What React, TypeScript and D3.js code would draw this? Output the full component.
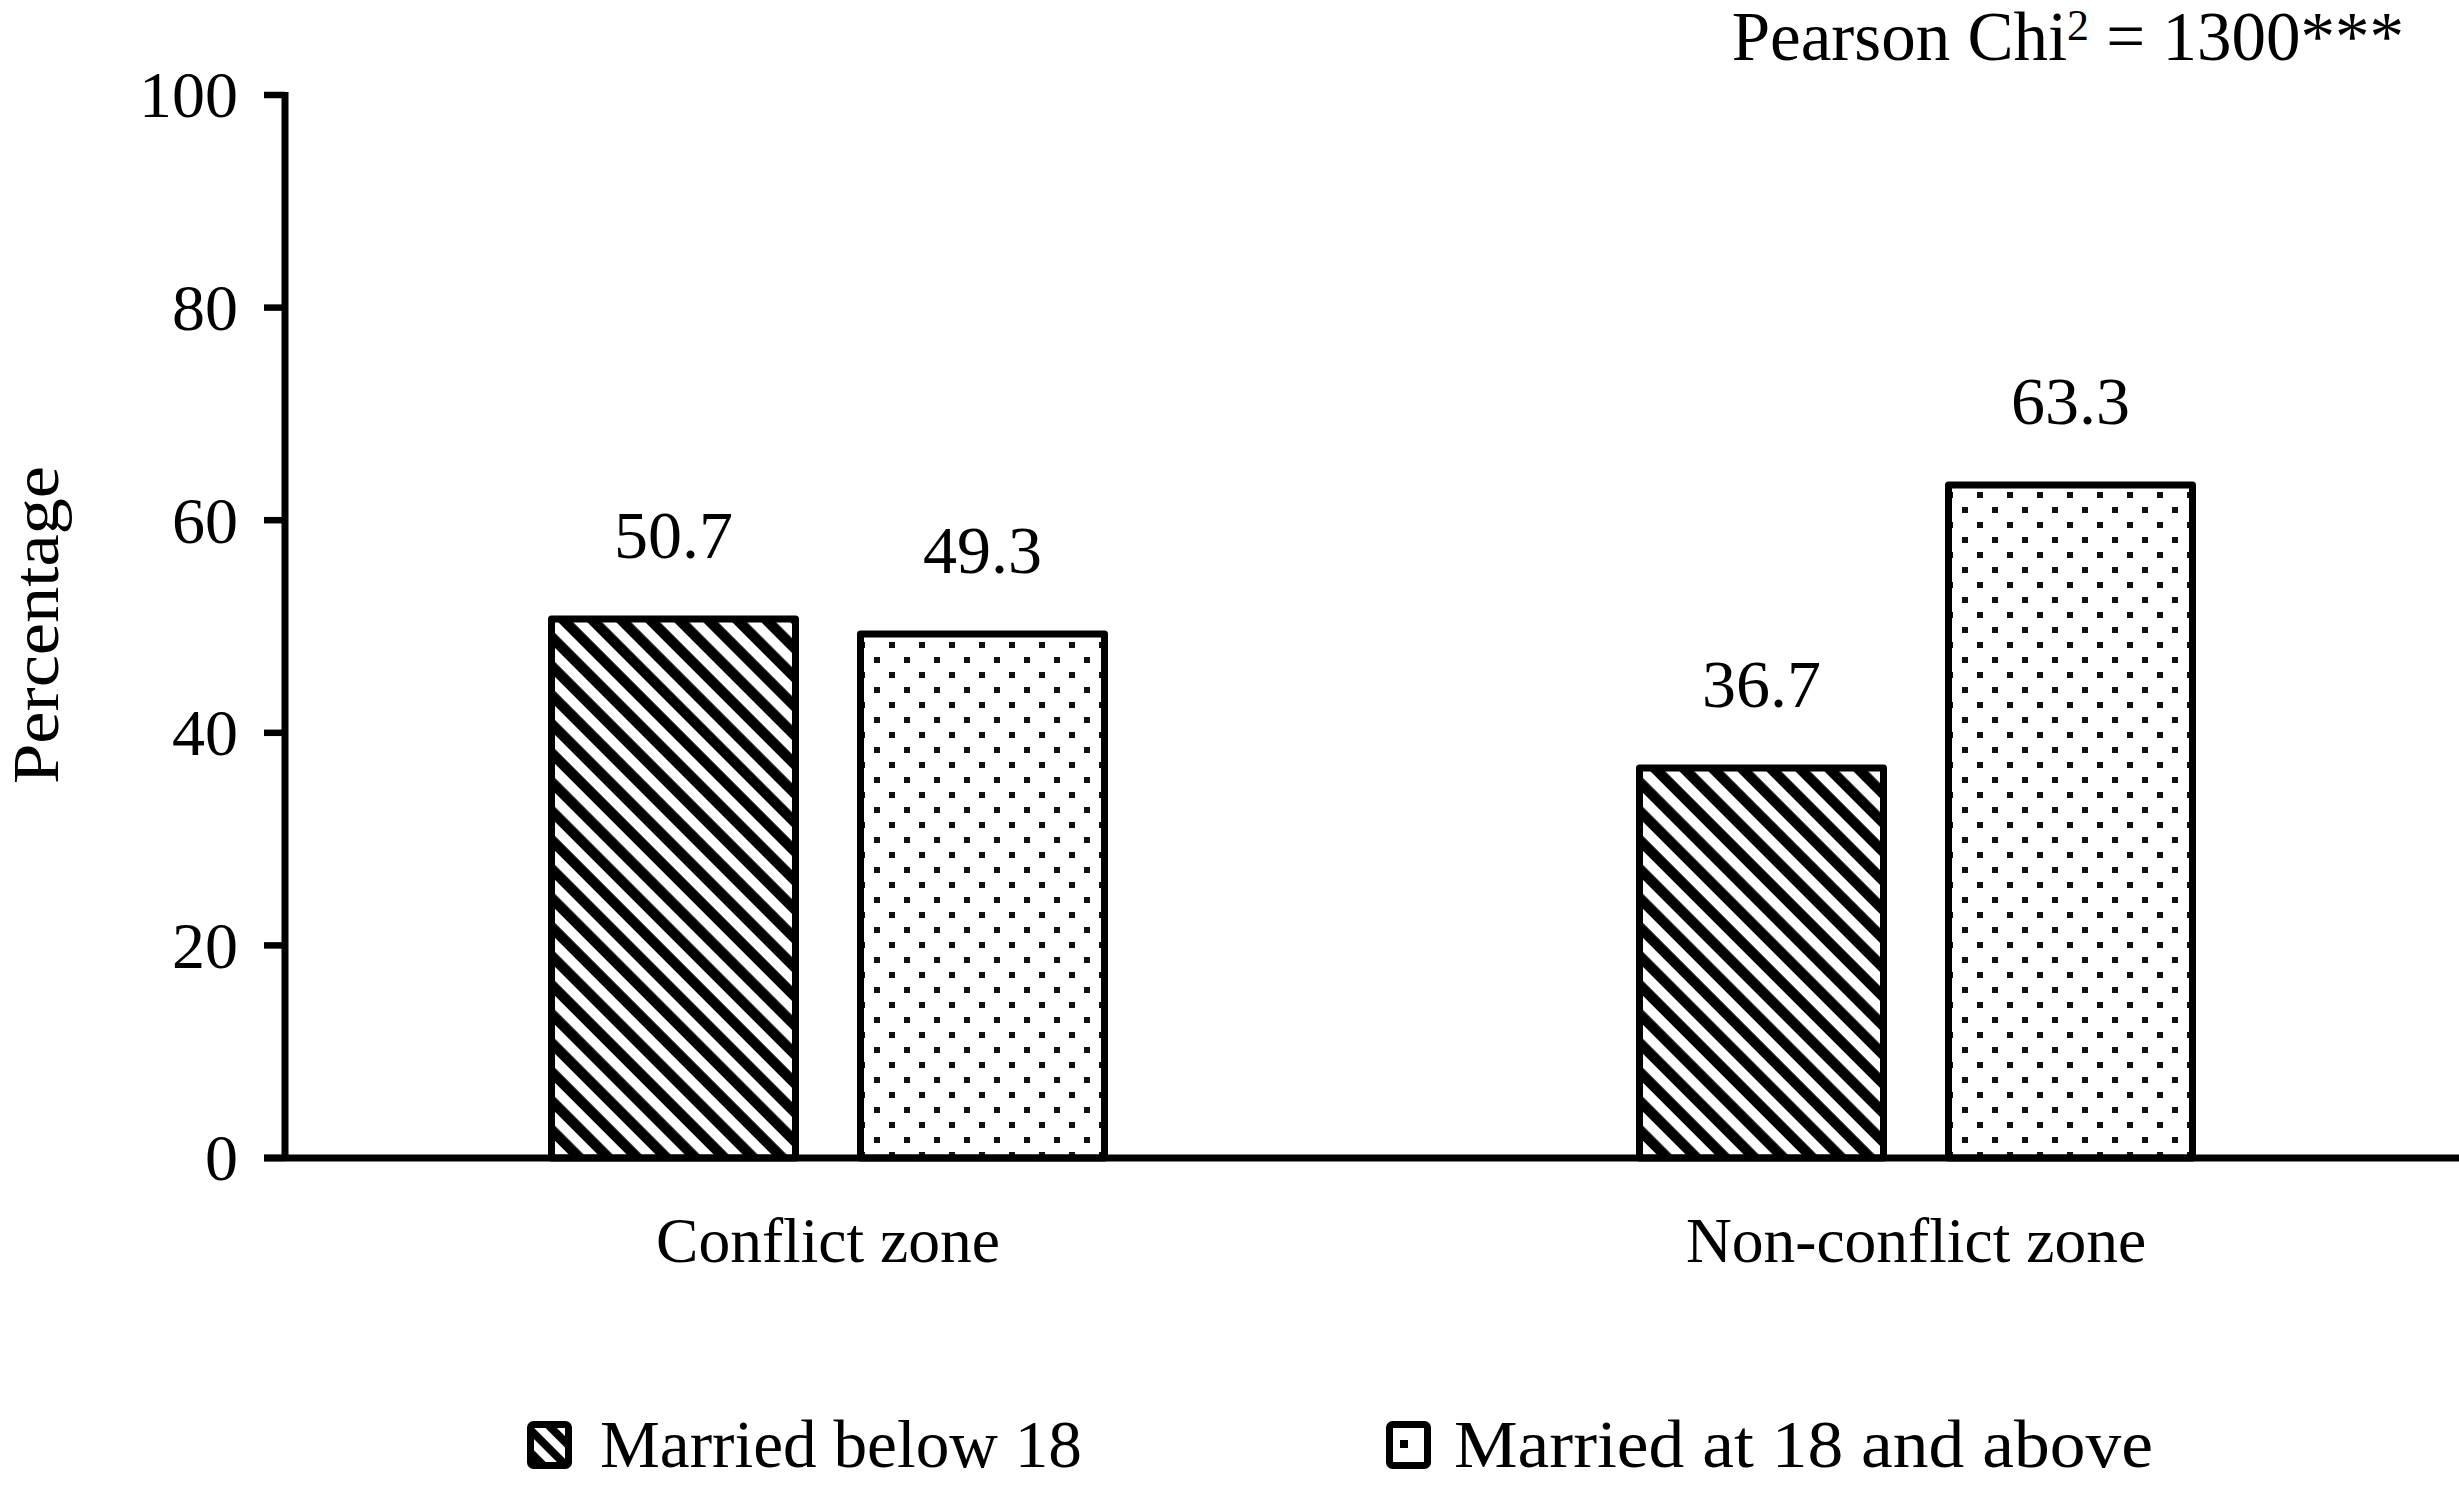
import React from "react";
import * as d3 from "d3";

// Zones on the x axis and the two marriage-age groups
const zones = ["Conflict zone", "Non-conflict zone"];
const groups = ["Married below 18", "Married at 18 and above"];
// Percentages per zone, in the order of `groups`
const conflictValues = [50.7, 49.3];
const nonConflictValues = [36.7, 63.3];
const yTicks = [0, 20, 40, 60, 80, 100];
const chiLabel = "Pearson Chi";
const chiValue = " = 1300***";

const W = 2459;
const H = 1498;
const FONT = "'Liberation Serif', 'Times New Roman', serif";

export default function App() {
  const valuesByZone = [conflictValues, nonConflictValues];
  const y = d3.scaleLinear().domain([0, 100]).range([1158, 95]);
  const x0 = d3.scaleBand<string>().domain(zones).range([284, 2460]).padding(0);
  const band = x0.bandwidth();
  const half = 276.5;
  const x1 = d3
    .scaleBand<string>()
    .domain(groups)
    .range([band / 2 - half, band / 2 + half])
    .paddingInner(65 / 309)
    .paddingOuter(0);
  const patternIds = ["stripes", "dots"];
  const axisX = 285;
  const legendText = [
    { x: 600, len: 482 },
    { x: 1454, len: 699 },
  ];
  const legendBox = [527, 1386];

  return (
    <svg
      width={W}
      height={H}
      style={{ position: "absolute", left: 0, top: 0, background: "#fff" }}
      fontFamily={FONT}
    >
      <defs>
        <pattern
          id="stripes"
          patternUnits="userSpaceOnUse"
          width={20.5}
          height={20.5}
          patternTransform="rotate(-45)"
        >
          <rect x={0} y={0} width={20.5} height={20.5} fill="#fff" />
          <rect x={0} y={0} width={10.5} height={20.5} fill="#000" />
        </pattern>
        <pattern id="dots" patternUnits="userSpaceOnUse" width={30} height={30} x={5} y={12}>
          <rect x={0} y={0} width={30} height={30} fill="#fff" />
          <rect x={0} y={0} width={5.5} height={5.5} fill="#111" shapeRendering="crispEdges" />
          <rect x={15} y={15} width={5.5} height={5.5} fill="#111" shapeRendering="crispEdges" />
        </pattern>
        <pattern
          id="stripesBig"
          patternUnits="userSpaceOnUse"
          width={16}
          height={16}
          patternTransform="rotate(-45)"
        >
          <rect x={0} y={0} width={16} height={16} fill="#fff" />
          <rect x={0} y={0} width={8} height={16} fill="#000" />
        </pattern>
      </defs>

      {/* bars */}
      {zones.map((zone, zi) => (
        <g key={zone} transform={`translate(${x0(zone)},0)`}>
          {groups.map((g, gi) => {
            const v = valuesByZone[zi][gi];
            const bx = x1(g) as number;
            const bw = x1.bandwidth();
            return (
              <g key={g}>
                <rect
                  x={bx}
                  y={y(v)}
                  width={bw}
                  height={y(0) - y(v)}
                  fill={`url(#${patternIds[gi]})`}
                  stroke="#000"
                  strokeWidth={7}
                  strokeLinejoin="round"
                />
                <text
                  x={bx + bw / 2}
                  y={y(v) - 61}
                  textAnchor="middle"
                  fontSize={68}
                  fill="#000"
                >
                  {v.toFixed(1)}
                </text>
              </g>
            );
          })}
          <text x={band / 2} y={1262} textAnchor="middle" fontSize={63.5} fill="#000">
            {zone}
          </text>
        </g>
      ))}

      {/* y axis */}
      <line x1={axisX} x2={axisX} y1={y(100) - 3} y2={y(0)} stroke="#000" strokeWidth={7} />
      {yTicks.map((t) => (
        <g key={t}>
          <line x1={264} x2={axisX} y1={y(t)} y2={y(t)} stroke="#000" strokeWidth={6.5} />
          <text x={238} y={y(t)} dy="0.34em" textAnchor="end" fontSize={66} fill="#000">
            {t}
          </text>
        </g>
      ))}
      {/* x axis */}
      <line x1={264} x2={W} y1={y(0)} y2={y(0)} stroke="#000" strokeWidth={7} />

      <text
        transform={`translate(58,625) rotate(-90)`}
        textAnchor="middle"
        fontSize={66}
        textLength={318}
        lengthAdjust="spacingAndGlyphs"
        fill="#000"
      >
        Percentage
      </text>

      <text x={2404} y={60} textAnchor="end" fontSize={69} fill="#000">
        {chiLabel}
        <tspan fontSize={44} dy={-20}>2</tspan>
        <tspan dy={20}>{chiValue}</tspan>
      </text>

      {/* legend */}
      <rect
        x={legendBox[0] + 3.5}
        y={1424.5}
        width={38}
        height={41}
        rx={3}
        fill="url(#stripesBig)"
        stroke="#000"
        strokeWidth={7}
      />
      <rect
        x={legendBox[1] + 3.5}
        y={1424.5}
        width={38}
        height={41}
        rx={3}
        fill="#fff"
        stroke="#000"
        strokeWidth={7}
      />
      <rect x={legendBox[1] + 14} y={1440} width={8} height={8} fill="#000" />
      {groups.map((g, i) => (
        <text
          key={g}
          x={legendText[i].x}
          y={1467}
          fontSize={68}
          textLength={legendText[i].len}
          lengthAdjust="spacingAndGlyphs"
          fill="#000"
        >
          {g}
        </text>
      ))}
    </svg>
  );
}
